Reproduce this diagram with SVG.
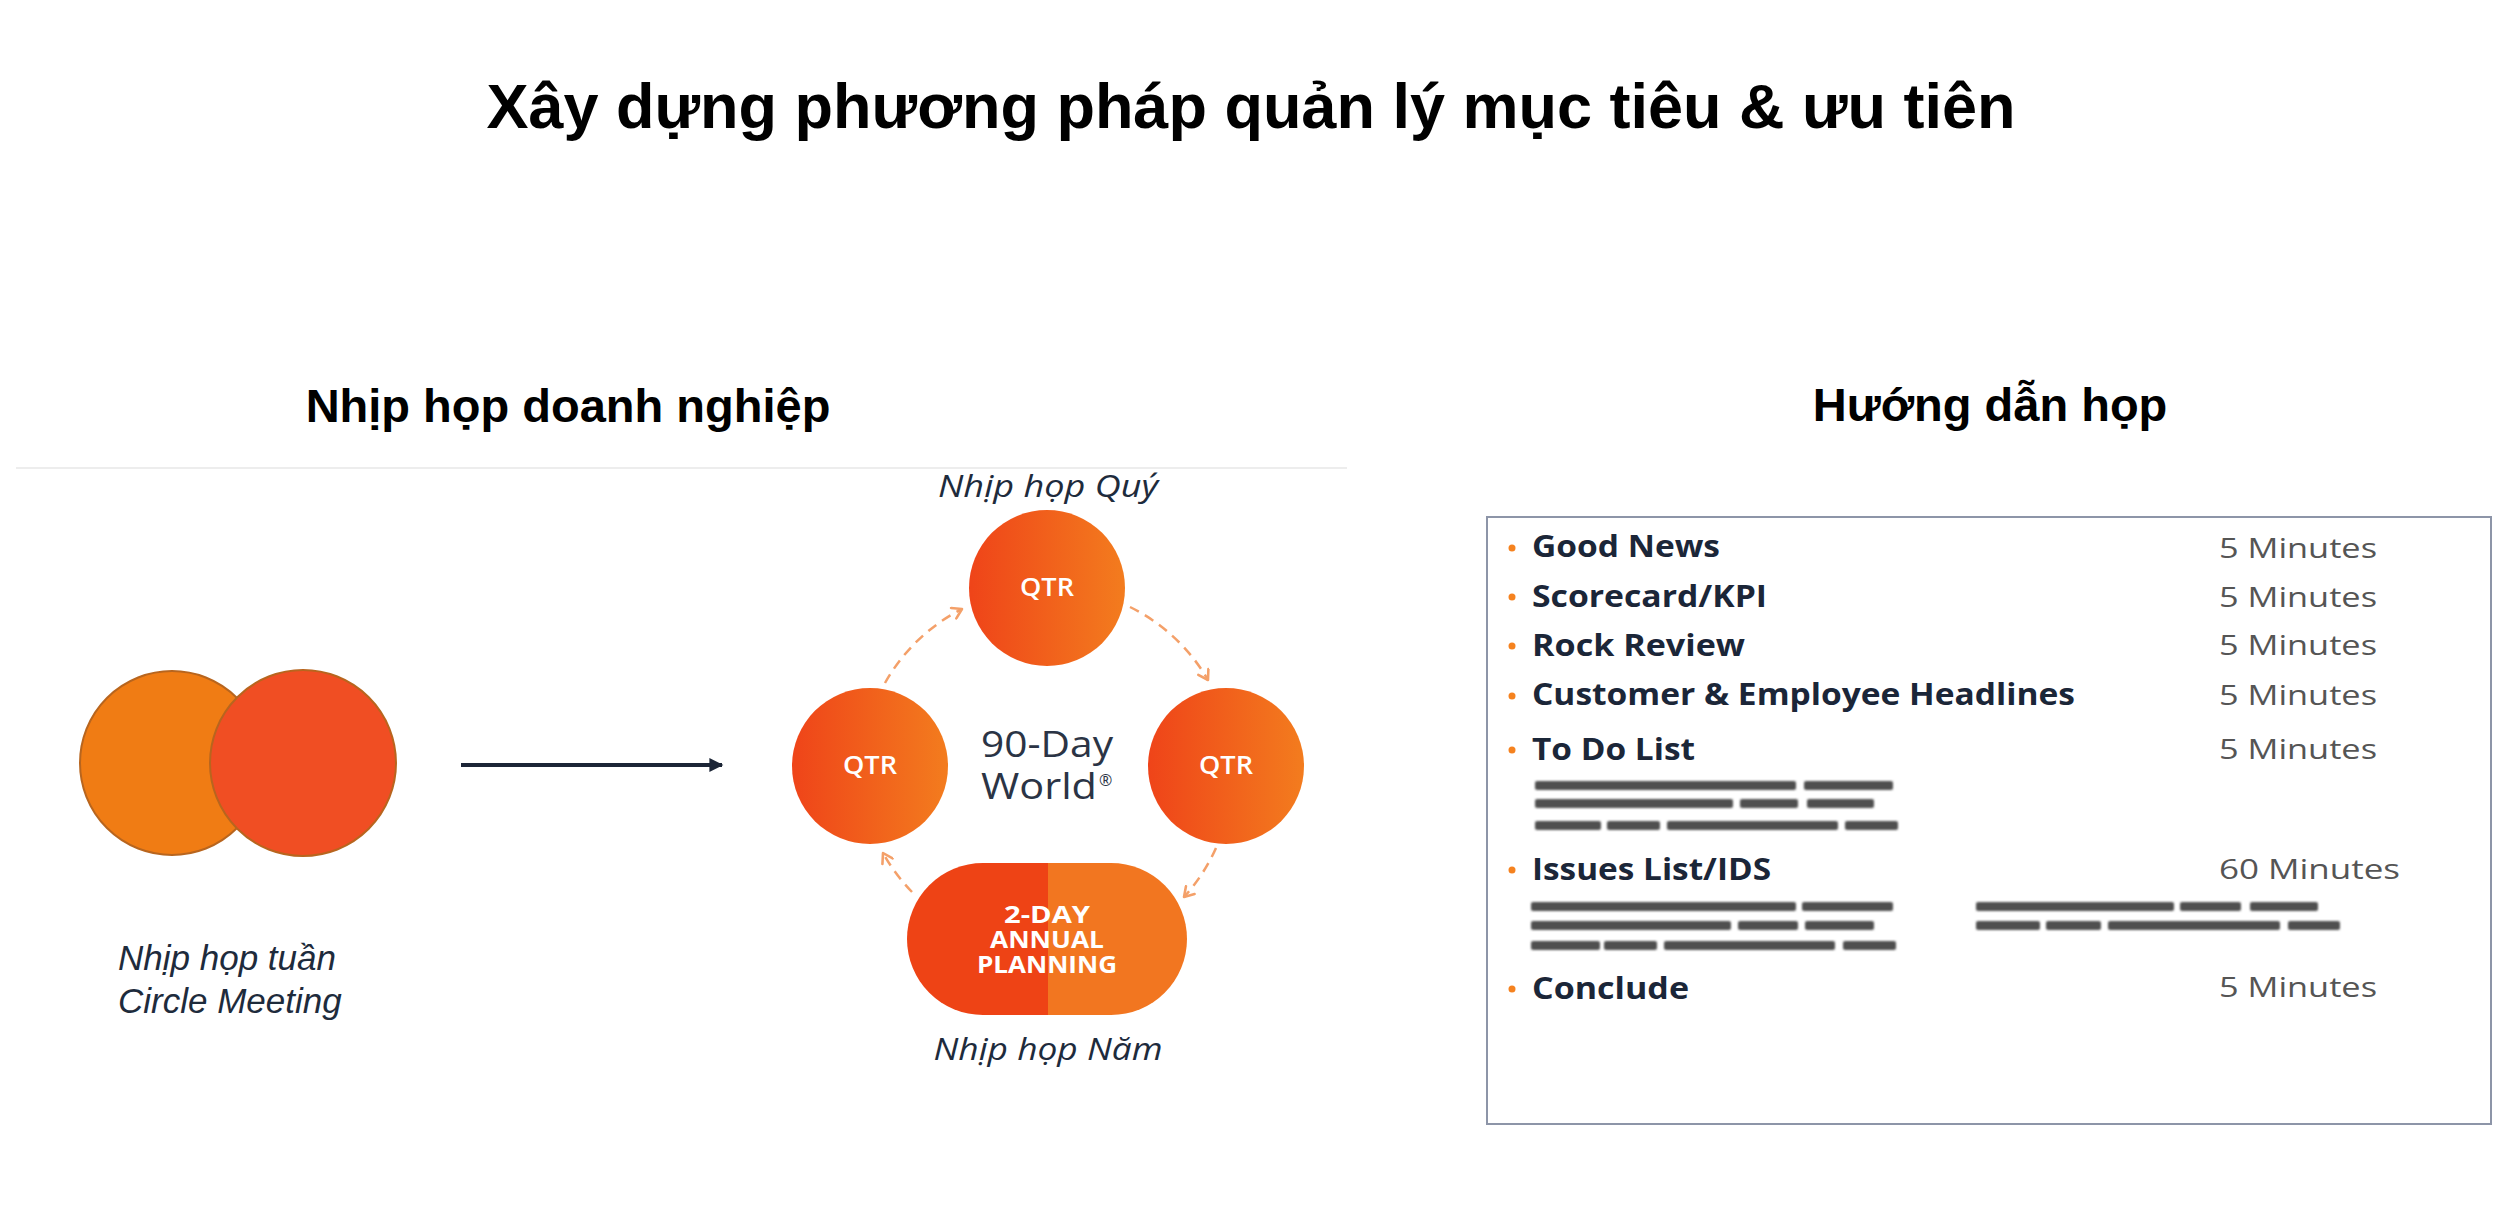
<svg xmlns="http://www.w3.org/2000/svg" width="2506" height="1218" viewBox="0 0 2506 1218">
  <defs>
    <linearGradient id="qtrGrad" x1="0" y1="0" x2="1" y2="0">
      <stop offset="0" stop-color="#EF4419"/>
      <stop offset="1" stop-color="#F37C1E"/>
    </linearGradient>
    <marker id="chev" viewBox="0 0 12 12" refX="10" refY="6" markerWidth="14" markerHeight="14" markerUnits="userSpaceOnUse" orient="auto">
      <path d="M2,1 L10,6 L2,11" fill="none" stroke="#F4A069" stroke-width="2.2" stroke-linecap="round" stroke-linejoin="round"/>
    </marker>
    <marker id="tri" viewBox="0 0 10 10" refX="9" refY="5" markerWidth="16" markerHeight="14" markerUnits="userSpaceOnUse" orient="auto">
      <path d="M0,0 L10,5 L0,10 Z" fill="#1C2536"/>
    </marker>
    <filter id="blur" x="-5%" y="-100%" width="110%" height="300%">
      <feGaussianBlur stdDeviation="1.2"/>
    </filter>
  </defs>
  <style>
    .title { font-family: "Liberation Sans", Arial, sans-serif; font-weight: bold; font-size: 63px; fill: #000; }
    .heading { font-family: "Liberation Sans", Arial, sans-serif; font-weight: bold; font-size: 47px; fill: #000; }
    .italicLbl { font-family: "Liberation Sans", Arial, sans-serif; font-style: italic; font-size: 35px; fill: #1E2B3C; }
    .cycleLbl { font-family: "Open Sans", "Noto Sans", sans-serif; font-style: italic; font-size: 31px; fill: #1E2B3C; }
    .qtr { font-family: "Open Sans", "Noto Sans", sans-serif; font-weight: 600; font-size: 25px; fill: #FFFFFF; }
    .cap { font-family: "Open Sans", "Noto Sans", sans-serif; font-weight: bold; font-size: 24px; fill: #FFFFFF; }
    .world { font-family: "Open Sans", "Noto Sans", sans-serif; font-size: 37px; fill: #2B3445; }
    .reg { font-size: 16px; }
    .item { font-family: "Open Sans", "Noto Sans", sans-serif; font-weight: bold; font-size: 30px; fill: #1B2638; }
    .mins { font-family: "Open Sans", "Noto Sans", sans-serif; font-size: 28px; fill: #555555; }
    .bullet { fill: #F5821F; }
    .dash { fill: none; stroke: #F4A069; stroke-width: 2.5; stroke-dasharray: 10 7; marker-end: url(#chev); }
    .blurred rect { fill: #505050; }
  </style>

  <rect width="2506" height="1218" fill="#FFFFFF"/>

  <g id="title">
    <text class="title" x="1251" y="128" text-anchor="middle">Xây dựng phương pháp quản lý mục tiêu &amp; ưu tiên</text>
  </g>

  <g id="heading-left">
    <text class="heading" x="568" y="422" text-anchor="middle">Nhịp họp doanh nghiệp</text>
    <line x1="16" y1="468" x2="1347" y2="468" stroke="#EDEDED" stroke-width="2"/>
  </g>

  <g id="heading-right">
    <text class="heading" x="1990" y="421" text-anchor="middle">Hướng dẫn họp</text>
  </g>

  <g id="weekly-meeting">
    <circle cx="172" cy="763" r="92" fill="#F07C14" stroke="#B8651E" stroke-width="2"/>
    <circle cx="303" cy="763" r="93" fill="#F04E23" stroke="#B8651E" stroke-width="2"/>
    <text class="italicLbl"><tspan x="118" y="970">Nhịp họp tuần</tspan><tspan x="118" y="1013">Circle Meeting</tspan></text>
  </g>

  <g id="qtr-top">
    <text class="cycleLbl" x="1048" y="497" text-anchor="middle" textLength="220" lengthAdjust="spacingAndGlyphs">Nhịp họp Quý</text>
    <circle cx="1047" cy="588" r="78" fill="url(#qtrGrad)"/>
    <text class="qtr" x="1047" y="596" text-anchor="middle" textLength="54" lengthAdjust="spacingAndGlyphs">QTR</text>
  </g>

  <g id="qtr-left">
    <circle cx="870" cy="766" r="78" fill="url(#qtrGrad)"/>
    <text class="qtr" x="870" y="774" text-anchor="middle" textLength="54" lengthAdjust="spacingAndGlyphs">QTR</text>
  </g>

  <g id="qtr-right">
    <circle cx="1226" cy="766" r="78" fill="url(#qtrGrad)"/>
    <text class="qtr" x="1226" y="774" text-anchor="middle" textLength="54" lengthAdjust="spacingAndGlyphs">QTR</text>
  </g>

  <g id="center-label">
    <text class="world"><tspan x="981" y="757" textLength="132" lengthAdjust="spacingAndGlyphs">90-Day</tspan><tspan x="981" y="799" textLength="116" lengthAdjust="spacingAndGlyphs">World</tspan><tspan class="reg" x="1099" y="786">®</tspan></text>
  </g>

  <g id="annual-planning">
    <path d="M1048,863 H983 A76,76 0 0 0 983,1015 H1048 Z" fill="#EE4315"/>
    <path d="M1048,863 H1111 A76,76 0 0 1 1111,1015 H1048 Z" fill="#F27620"/>
    <text class="cap" text-anchor="middle"><tspan x="1047" y="923" textLength="86" lengthAdjust="spacingAndGlyphs">2-DAY</tspan><tspan x="1047" y="948" textLength="114" lengthAdjust="spacingAndGlyphs">ANNUAL</tspan><tspan x="1047" y="973" textLength="140" lengthAdjust="spacingAndGlyphs">PLANNING</tspan></text>
    <text class="cycleLbl" x="1048" y="1060" text-anchor="middle" textLength="229" lengthAdjust="spacingAndGlyphs">Nhịp họp Năm</text>
  </g>

  <g id="connectors">
    <line x1="461" y1="765" x2="722" y2="765" stroke="#1C2536" stroke-width="4" marker-end="url(#tri)"/>
    <path class="dash" d="M885,683 A184,184 0 0 1 962,609"/>
    <path class="dash" d="M1130,607 A184,184 0 0 1 1208,680"/>
    <path class="dash" d="M1216,848 A184,184 0 0 1 1184,897"/>
    <path class="dash" d="M912,892 A184,184 0 0 1 883,853"/>
  </g>

  <g id="meeting-agenda">
    <rect x="1487" y="517" width="1004" height="607" fill="#FFFFFF" stroke="#8D95A8" stroke-width="2"/>

    <circle class="bullet" cx="1512" cy="548" r="3.5"/>
    <text class="item" x="1532" y="557" textLength="188" lengthAdjust="spacingAndGlyphs">Good News</text>
    <text class="mins" x="2219" y="558" textLength="158" lengthAdjust="spacingAndGlyphs">5 Minutes</text>

    <circle class="bullet" cx="1512" cy="597" r="3.5"/>
    <text class="item" x="1532" y="607" textLength="235" lengthAdjust="spacingAndGlyphs">Scorecard/KPI</text>
    <text class="mins" x="2219" y="607" textLength="158" lengthAdjust="spacingAndGlyphs">5 Minutes</text>

    <circle class="bullet" cx="1512" cy="646" r="3.5"/>
    <text class="item" x="1532" y="656" textLength="213" lengthAdjust="spacingAndGlyphs">Rock Review</text>
    <text class="mins" x="2219" y="655" textLength="158" lengthAdjust="spacingAndGlyphs">5 Minutes</text>

    <circle class="bullet" cx="1512" cy="696" r="3.5"/>
    <text class="item" x="1532" y="705" textLength="543" lengthAdjust="spacingAndGlyphs">Customer &amp; Employee Headlines</text>
    <text class="mins" x="2219" y="705" textLength="158" lengthAdjust="spacingAndGlyphs">5 Minutes</text>

    <circle class="bullet" cx="1512" cy="750" r="3.5"/>
    <text class="item" x="1532" y="760" textLength="163" lengthAdjust="spacingAndGlyphs">To Do List</text>
    <text class="mins" x="2219" y="759" textLength="158" lengthAdjust="spacingAndGlyphs">5 Minutes</text>

    <g class="blurred" filter="url(#blur)">
      <rect x="1535" y="781" width="261" height="9" rx="2"/>
      <rect x="1804" y="781" width="89" height="9" rx="2"/>
      <rect x="1535" y="799" width="198" height="9" rx="2"/>
      <rect x="1740" y="799" width="58" height="9" rx="2"/>
      <rect x="1807" y="799" width="67" height="9" rx="2"/>
      <rect x="1535" y="821" width="66" height="9" rx="2"/>
      <rect x="1607" y="821" width="53" height="9" rx="2"/>
      <rect x="1667" y="821" width="171" height="9" rx="2"/>
      <rect x="1845" y="821" width="53" height="9" rx="2"/>
    </g>

    <circle class="bullet" cx="1512" cy="870" r="3.5"/>
    <text class="item" x="1532" y="880" textLength="239" lengthAdjust="spacingAndGlyphs">Issues List/IDS</text>
    <text class="mins" x="2219" y="879" textLength="181" lengthAdjust="spacingAndGlyphs">60 Minutes</text>

    <g class="blurred" filter="url(#blur)">
      <rect x="1531" y="902" width="265" height="9" rx="2"/>
      <rect x="1802" y="902" width="91" height="9" rx="2"/>
      <rect x="1531" y="921" width="200" height="9" rx="2"/>
      <rect x="1738" y="921" width="60" height="9" rx="2"/>
      <rect x="1805" y="921" width="69" height="9" rx="2"/>
      <rect x="1531" y="941" width="69" height="9" rx="2"/>
      <rect x="1604" y="941" width="53" height="9" rx="2"/>
      <rect x="1664" y="941" width="171" height="9" rx="2"/>
      <rect x="1843" y="941" width="53" height="9" rx="2"/>
      <rect x="1976" y="902" width="198" height="9" rx="2"/>
      <rect x="2180" y="902" width="61" height="9" rx="2"/>
      <rect x="2250" y="902" width="68" height="9" rx="2"/>
      <rect x="1976" y="921" width="64" height="9" rx="2"/>
      <rect x="2046" y="921" width="55" height="9" rx="2"/>
      <rect x="2108" y="921" width="172" height="9" rx="2"/>
      <rect x="2288" y="921" width="52" height="9" rx="2"/>
    </g>

    <circle class="bullet" cx="1512" cy="989" r="3.5"/>
    <text class="item" x="1532" y="999" textLength="157" lengthAdjust="spacingAndGlyphs">Conclude</text>
    <text class="mins" x="2219" y="997" textLength="158" lengthAdjust="spacingAndGlyphs">5 Minutes</text>
  </g>
</svg>
